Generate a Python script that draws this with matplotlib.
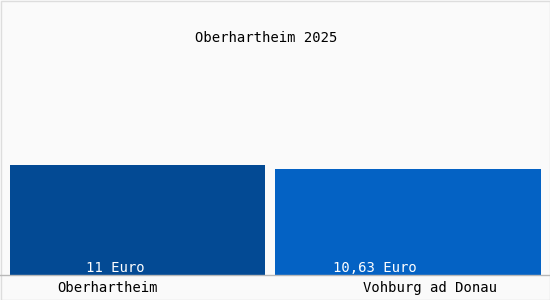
#!/usr/bin/env python3

import matplotlib.pyplot as plt

# data
towns = ['Oberhartheim', 'Vohburg ad Donau']
values = [11.0, 10.63]
value_labels = ['11 Euro', '10,63 Euro']
title = 'Oberhartheim 2025'
bar_colors = ['#034a94', '#0462c4']

fig = plt.figure(figsize=(5.5, 3.0), dpi=100)
fig.patch.set_facecolor('#fafafa')

# plot area: x 10..541 px, y baseline at 275 px, 10 px per Euro
ax = fig.add_axes([10 / 550, 25 / 300, 531 / 550, 250 / 300])
ax.set_facecolor('#fafafa')
pos = list(range(len(towns)))
ax.bar(pos, values, width=[0.943, 0.983], color=bar_colors)
ax.set_xlim(-0.4713, 1.4917)
ax.set_ylim(0, 25)
ax.axis('off')

mono = 'DejaVu Sans Mono'
offsets = [-0.083, -0.122]
for p, lab, off in zip(pos, value_labels, offsets):
    ax.text(p + off, 0.05, lab, ha='center', va='bottom', color='white',
            fontsize=10, family=mono)

# baseline and frame
fig.add_artist(plt.Line2D([0, 1], [25 / 300, 25 / 300], color='#b8b8b8', lw=1))
fig.add_artist(plt.Rectangle((0.5 / 550, 0.5 / 300), 549 / 550, 299 / 300,
                             fill=False, ec='#dddddd', lw=1))

# town names under the bars
fig.text(107 / 550, 1 - 288 / 300, towns[0], ha='center', va='center',
         fontsize=10, family=mono)
fig.text(497 / 550, 1 - 288 / 300, towns[1], ha='right', va='center',
         fontsize=10, family=mono)

fig.text(266 / 550, 1 - 38 / 300, title, ha='center', va='center',
         fontsize=10, family=mono)

plt.savefig('out.png', dpi=100, facecolor=fig.get_facecolor())
